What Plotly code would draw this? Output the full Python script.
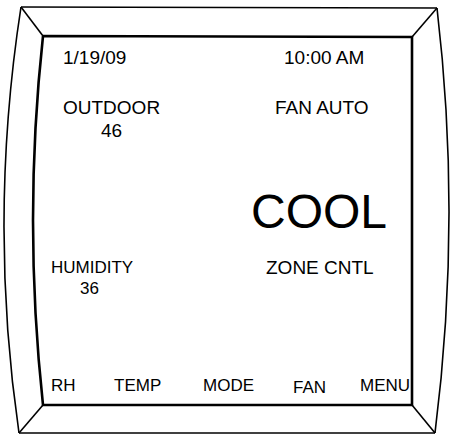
import plotly.graph_objects as go

# Display content
date_label = "1/19/09"
time_label = "10:00 AM"
outdoor_label = "OUTDOOR"
outdoor_value = 46
fan_label = "FAN AUTO"
mode_label = "COOL"
humidity_label = "HUMIDITY"
humidity_value = 36
zone_label = "ZONE CNTL"
buttons = ["RH", "TEMP", "MODE", "FAN", "MENU"]

# Layout positions (pixel coordinates in a 450x434 canvas)
button_x = [50, 113, 202, 292, 359]
button_y = [385, 385, 385, 387, 385]

W, H = 450, 434
FONT = "Liberation Sans, Arial, sans-serif"

fig = go.Figure()

line_outer = dict(color="black", width=1.6)
line_inner = dict(color="black", width=2.6)

shapes = [
    # outer frame
    dict(type="path", path="M 21 7 L 437 8", line=line_outer),
    dict(type="path", path="M 19 433 L 435 433", line=line_outer),
    dict(type="path", path="M 21 7 Q -12 220 19 433", line=line_outer),
    dict(type="path", path="M 437 8 Q 462 220 435 433", line=line_outer),
    # diagonals
    dict(type="path", path="M 21 7 L 43 36", line=line_outer),
    dict(type="path", path="M 437 8 L 412 37", line=line_outer),
    dict(type="path", path="M 19 433 L 43 405", line=line_outer),
    dict(type="path", path="M 435 433 L 412 405", line=line_outer),
    # inner screen
    dict(type="path", path="M 43 36 L 412 37 L 412 405 L 43 405 Q 23 220 43 36", line=line_inner),
]
for s in shapes:
    s.update(xref="x", yref="y", layer="above")

annotations = []

def add(text, x, y, size, anchor="left"):
    annotations.append(dict(text=str(text), x=x, y=y, xref="x", yref="y",
                            xanchor=anchor, yanchor="middle", showarrow=False,
                            font=dict(family=FONT, size=size, color="black")))

add(date_label, 61, 57, 19)
add(time_label, 324, 57, 19, "center")
add(outdoor_label, 61, 107, 19)
add(outdoor_value, 111, 130, 19, "center")
add(fan_label, 322, 107, 19, "center")
add(mode_label, 319, 211, 48, "center")
add(humidity_label, 49, 267, 17)
add(humidity_value, 89, 288, 17, "center")
add(zone_label, 320, 267, 19, "center")
for b, bx, by in zip(buttons, button_x, button_y):
    add(b, bx - 1, by, 17)

fig.update_layout(
    width=W, height=H,
    margin=dict(l=0, r=0, t=0, b=0),
    paper_bgcolor="white", plot_bgcolor="white",
    xaxis=dict(range=[0, W], visible=False, fixedrange=True),
    yaxis=dict(range=[H, 0], visible=False, fixedrange=True),
    shapes=shapes, annotations=annotations, showlegend=False,
)

fig.write_html(
    "out.html",
    config={"displayModeBar": False},
    post_script="document.body.style.margin='0';document.body.style.overflow='hidden';",
)
